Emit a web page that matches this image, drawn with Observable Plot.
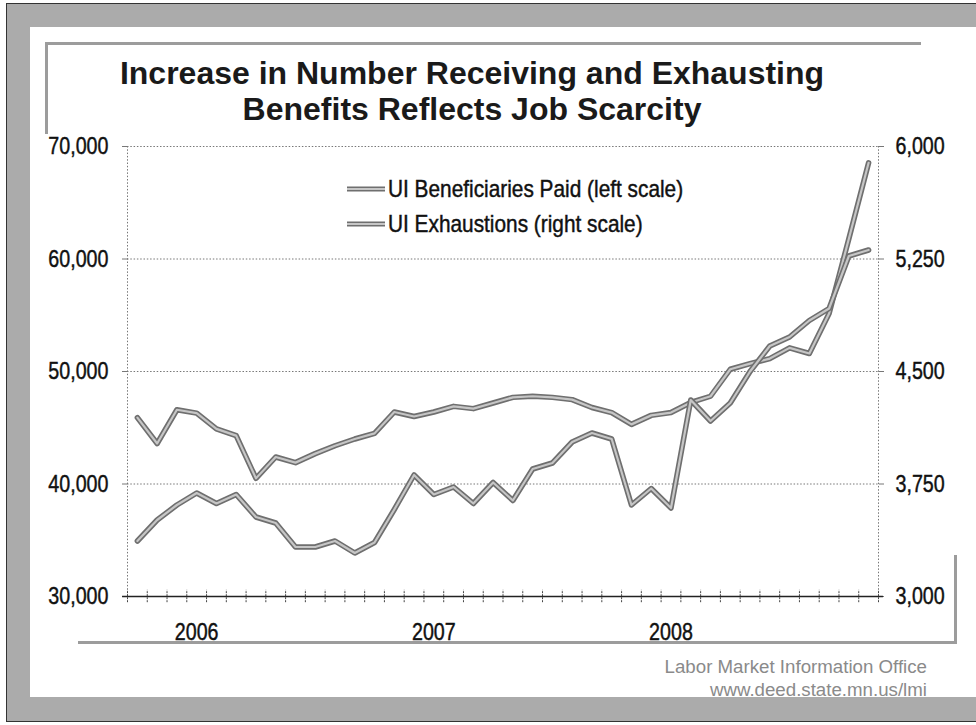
<!DOCTYPE html>
<html>
<head>
<meta charset="utf-8">
<script src="https://cdn.jsdelivr.net/npm/d3@7"></script>
<script src="https://cdn.jsdelivr.net/npm/@observablehq/plot@0.6"></script>
<style>
  html, body { margin: 0; padding: 0; overflow: hidden; background: #fff; }
  #c { position: relative; width: 976px; height: 725px; background: #fff; overflow: hidden; }
  .abs { position: absolute; }
  #band { left: 6px; top: 3px; width: 980px; height: 719px; box-sizing: border-box;
          border-style: solid; border-color: #ababab; border-width: 24px 0 25px 24px; }
  #outline { left: 6px; top: 3px; width: 980px; height: 719px; box-sizing: border-box;
          border: 1.5px solid #333; }
  .fr { background: #9c9c9c; }
  #title { left: 0; top: 55px; width: 944px; text-align: center;
           font: bold 32px "Liberation Sans", Arial, sans-serif;
           line-height: 36px; color: #1a1a1a; }
  .leg { left: 347px; height: 30px; display: flex; align-items: center;
         font: 24.5px "Liberation Sans", Arial, sans-serif; color: #111; white-space: nowrap; }
  .leg svg { margin-right: 3px; }
  .leg span { display: inline-block; transform: scaleX(0.85); transform-origin: 0 50%;
              -webkit-text-stroke: 0.45px #111; }
  .foot { right: 49px; font: 18.7px "Liberation Sans", Arial, sans-serif; color: #8a8a8a; white-space: nowrap; }
  #chart { left: 0; top: 0; }
</style>
</head>
<body>
<div id="c">
  <div id="band" class="abs"></div>
  <div id="outline" class="abs"></div>
  <div class="abs fr" style="left:45px;top:42px;width:876px;height:3px"></div>
  <div class="abs fr" style="left:45px;top:42px;width:3px;height:92px"></div>
  <div class="abs fr" style="left:78px;top:641px;width:879px;height:3px"></div>
  <div class="abs fr" style="left:954px;top:555px;width:3px;height:89px"></div>
  <div id="chart" class="abs"></div>
  <div id="title" class="abs"></div>
  <div id="legend"></div>
  <div id="foot1" class="abs foot" style="top:656px"></div>
  <div id="foot2" class="abs foot" style="top:679px"></div>
</div>
<script>
// ---- data ----
const months = [
  "Oct 2005","Nov 2005","Dec 2005",
  "Jan 2006","Feb 2006","Mar 2006","Apr 2006","May 2006","Jun 2006","Jul 2006","Aug 2006","Sep 2006","Oct 2006","Nov 2006","Dec 2006",
  "Jan 2007","Feb 2007","Mar 2007","Apr 2007","May 2007","Jun 2007","Jul 2007","Aug 2007","Sep 2007","Oct 2007","Nov 2007","Dec 2007",
  "Jan 2008","Feb 2008","Mar 2008","Apr 2008","May 2008","Jun 2008","Jul 2008","Aug 2008","Sep 2008","Oct 2008","Nov 2008"
];
const beneficiaries = [
  45900, 43600, 46600,
  46300, 44900, 44300, 40500, 42400, 41900, 42700, 43400, 44000, 44500, 46400, 46000,
  46400, 46900, 46700, 47200, 47700, 47800, 47700, 47500, 46800, 46350, 45300, 46100,
  46350, 47250, 47800, 50200, 50700, 51150, 52100, 51600, 55150, 61800, 68550
];
const exhaustions = [
  3370, 3510, 3610,
  3690, 3620, 3680, 3530, 3490, 3330, 3330, 3370, 3290, 3360, 3580, 3810,
  3680, 3730, 3620, 3760, 3640, 3850, 3890, 4030, 4090, 4050, 3610, 3720,
  3590, 4310, 4170, 4290, 4500, 4670, 4730, 4840, 4920, 5270, 5310
];
const leftTicks = [30000, 40000, 50000, 60000, 70000];
const rightTicks = [3000, 3750, 4500, 5250, 6000];
const yearLabels = ["2006", "2007", "2008"];
const yearMonths = ["Jan 2006", "Jan 2007", "Jan 2008"];
const seriesNames = ["UI Beneficiaries Paid (left scale)", "UI Exhaustions (right scale)"];
const titleLines = ["Increase in Number Receiving and Exhausting", "Benefits Reflects Job Scarcity"];
const footLines = ["Labor Market Information Office", "www.deed.state.mn.us/lmi"];

// ---- helpers ----
const L0 = leftTicks[0], L1 = leftTicks[leftTicks.length - 1];
const R0 = rightTicks[0], R1 = rightTicks[rightTicks.length - 1];
const toLeft = r => L0 + (r - R0) * (L1 - L0) / (R1 - R0);
const fmt = d3.format(",");

const rows = months.map((m, i) => ({i, month: m, ben: beneficiaries[i], exh: exhaustions[i]}));
const boundaries = d3.range(months.length + 1).map(k => k - 0.5);
const years = yearLabels.map((t, k) => ({t, i: months.indexOf(yearMonths[k])}));
const rightAsLeft = rightTicks.map(toLeft);

const font = '"Liberation Sans", Arial, sans-serif';
const dark = "#6f6f6f", light = "#c6c6c6";

const chart = Plot.plot({
  width: 976,
  height: 725,
  marginLeft: 127,
  marginRight: 98,
  marginTop: 146,
  marginBottom: 129,
  x: {type: "linear", domain: [-0.5, months.length - 0.5], axis: null},
  y: {domain: [L0, L1], axis: null},
  style: {background: "transparent", overflow: "visible", fontFamily: font, fontSize: "24px", color: "#111"},
  marks: [
    Plot.ruleY(leftTicks.slice(1), {stroke: "#777", strokeDasharray: "1.5,1.8", strokeWidth: 1}),
    Plot.ruleX([-0.5, months.length - 0.5], {stroke: "#777", strokeDasharray: "1.5,1.8", strokeWidth: 1}),
    Plot.axisY(leftTicks, {anchor: "left", label: null, tickSize: 5, tickPadding: 14, tickFormat: fmt,
      stroke: "#777", fill: "#111", fontSize: 24, fontFamily: font}),
    Plot.axisY(rightAsLeft, {anchor: "right", label: null, tickSize: 5, tickPadding: 12,
      tickFormat: (v) => fmt(rightTicks[rightAsLeft.indexOf(v)]),
      stroke: "#777", fill: "#111", fontSize: 24, fontFamily: font}),
    Plot.ruleY([L0], {x1: -0.75, x2: months.length - 0.25, stroke: "#222", strokeWidth: 1.3}),
    Plot.ruleX(boundaries, {x: d => d, y1: L0 - 550, y2: L0 + 550, stroke: "#444", strokeWidth: 1, strokeDasharray: "2,1"}),
    Plot.text(years, {x: "i", y: () => L0, text: "t", dy: 36, fontSize: 24, fontFamily: font, fill: "#111"}),
    Plot.line(rows, {x: "i", y: "ben", stroke: dark, strokeWidth: 5.5, strokeLinejoin: "round"}),
    Plot.line(rows, {x: "i", y: "ben", stroke: light, strokeWidth: 2.2, strokeLinejoin: "round"}),
    Plot.line(rows, {x: "i", y: d => toLeft(d.exh), stroke: dark, strokeWidth: 5.5, strokeLinejoin: "round"}),
    Plot.line(rows, {x: "i", y: d => toLeft(d.exh), stroke: light, strokeWidth: 2.2, strokeLinejoin: "round"})
  ]
});
// condense the text horizontally (narrow face as in the original) and darken it a little
chart.querySelectorAll("text").forEach(t => {
  const tr = t.getAttribute("transform") || "";
  t.setAttribute("transform", (tr + " scale(0.82,1)").trim());
  t.setAttribute("stroke", "#111");
  t.setAttribute("stroke-width", "0.45");
});
document.getElementById("chart").appendChild(chart);

// title
document.getElementById("title").innerHTML = titleLines.map(t => `<div>${t}</div>`).join("");

// legend
const legTops = [174, 209];
document.getElementById("legend").innerHTML = seriesNames.map((n, k) =>
  `<div class="abs leg" style="top:${legTops[k]}px">
     <svg width="38" height="8"><line x1="0" y1="4" x2="38" y2="4" stroke="${dark}" stroke-width="5"/>
     <line x1="0" y1="4" x2="38" y2="4" stroke="${light}" stroke-width="2"/></svg><span>${n}</span></div>`
).join("");

// footer
document.getElementById("foot1").textContent = footLines[0];
document.getElementById("foot2").textContent = footLines[1];
</script>
</body>
</html>
